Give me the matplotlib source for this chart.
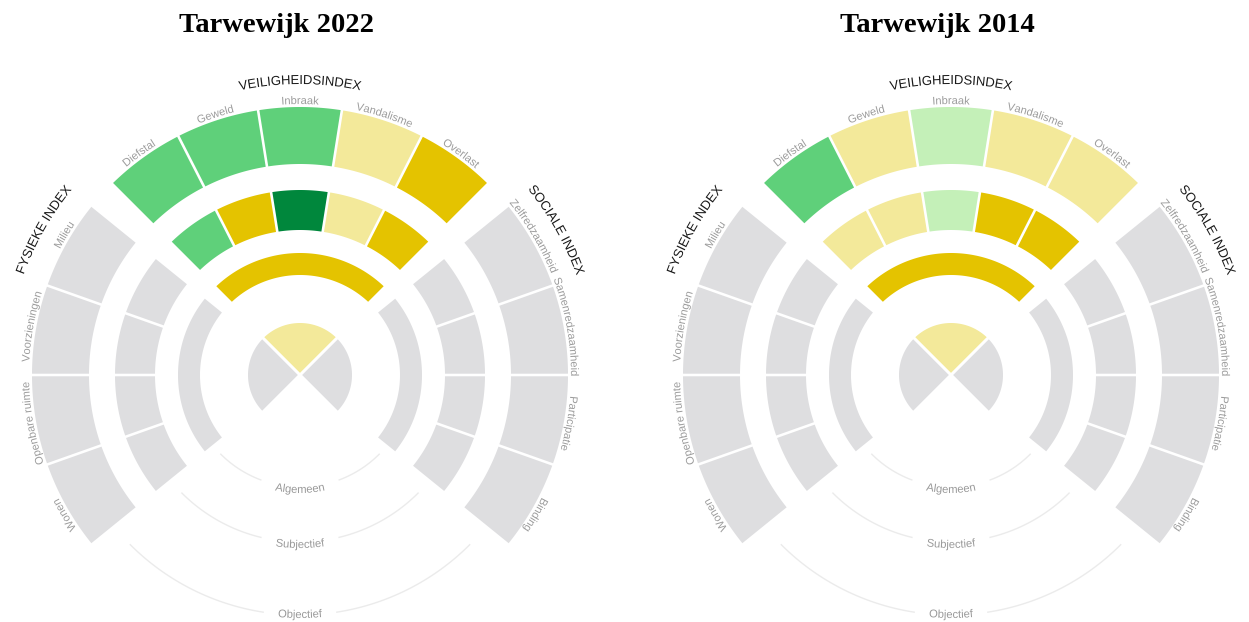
import numpy as np
import matplotlib.pyplot as plt
import matplotlib.patheffects as pe
from matplotlib.patches import Polygon
from matplotlib.font_manager import FontProperties, findfont
from matplotlib.ft2font import FT2Font

W, H = 1249, 622

titles = ["Tarwewijk 2022", "Tarwewijk 2014"]
centers_x = [300, 951]
title_x = [277, 937]

index_names = ["FYSIEKE INDEX", "VEILIGHEIDSINDEX", "SOCIALE INDEX"]
# clockwise order inside each index
sub_fysiek = ["Wonen", "Openbare ruimte", "Voorzieningen", "Milieu"]
sub_veilig = ["Diefstal", "Geweld", "Inbraak", "Vandalisme", "Overlast"]
sub_sociaal = ["Zelfredzaamheid", "Samenredzaamheid", "Participatie", "Binding"]
ring_names = ["Algemeen", "Subjectief", "Objectief"]

# score classes: 0 = geen data, 1 = slecht ... 5 = goed
index_2022 = [0, 2, 0]
algemeen_2022 = [0, 1, 0]
subj_2022 = [[0, 0, 0, 0], [4, 1, 5, 2, 1], [0, 0, 0, 0]]
obj_2022 = [[0, 0, 0, 0], [4, 4, 4, 2, 1], [0, 0, 0, 0]]

index_2014 = [0, 2, 0]
algemeen_2014 = [0, 1, 0]
subj_2014 = [[0, 0, 0, 0], [2, 2, 3, 1, 1], [0, 0, 0, 0]]
obj_2014 = [[0, 0, 0, 0], [4, 2, 3, 2, 2], [0, 0, 0, 0]]

palette = {0: "#dedee0", 1: "#e4c300", 2: "#f3e99a", 3: "#c4f0b8",
           4: "#5fd07a", 5: "#00873c"}

SANS = "Liberation Sans"
CY = H - 375
R_PIE = 52
R_ALG = (100, 122)
R_SUBJ = (145, 185)
R_OBJ = (211, 268)
# index sectors, clockwise: (start angle, end angle, edge offset px, label spread)
sectors = [(219, 141, 0.6, 1.05), (135, 45, 3.6, 1.0), (39, -39, 0.6, 1.05)]
pie_sectors = [(225, 135), (135, 45), (45, -45)]
SEP = 1.3

fig = plt.figure(figsize=(W / 100, H / 100), dpi=100)
ax = fig.add_axes([0, 0, 1, 1])
ax.set_xlim(0, W)
ax.set_ylim(0, H)
ax.axis("off")

_font = FT2Font(findfont(FontProperties(family=SANS)))


def advances(s, fs):
    # glyph advance widths in pixels (dpi 100)
    _font.set_size(fs, 100)
    out = []
    for ch in s:
        g = _font.load_char(ord(ch))
        out.append(g.linearHoriAdvance / 65536)
    return np.array(out)


def wedge(cx, cy, r0, r1, a0, a1, off0, off1, n=80):
    # a0 < a1 in degrees, offsets are parallel distances to the edge lines
    def angles(r):
        b0 = a0 + np.degrees(np.arcsin(min(off0 / r, 1)))
        b1 = a1 - np.degrees(np.arcsin(min(off1 / r, 1)))
        return np.radians(np.linspace(b0, b1, n))
    t = angles(r1)
    pts = list(zip(cx + r1 * np.cos(t), cy + r1 * np.sin(t)))
    if r0 > 0:
        t = angles(r0)[::-1]
        pts += list(zip(cx + r0 * np.cos(t), cy + r0 * np.sin(t)))
    else:
        half = np.radians(a1 - a0) / 2
        mid = np.radians(a0 + a1) / 2
        d = off0 / np.sin(half)
        pts.append((cx + d * np.cos(mid), cy + d * np.sin(mid)))
    return pts


def draw(cx, r0, r1, a0, a1, off0, off1, cls):
    ax.add_patch(Polygon(wedge(cx, CY, r0, r1, a0, a1, off0, off1),
                         closed=True, facecolor=palette[cls], edgecolor="none"))


def curved_text(cx, s, r, theta_c, fs, color, outward=True):
    adv = advances(s, fs)
    total = adv.sum()
    mids = np.cumsum(adv) - adv / 2 - total / 2
    for ch, xc in zip(s, mids):
        if ch == " ":
            continue
        if outward:
            th = theta_c - np.degrees(xc / r)
            rot = th - 90
        else:
            th = theta_c + np.degrees(xc / r)
            rot = th + 90
        t = np.radians(th)
        # path effect -> drawn as path, so no pixel snapping per glyph
        ax.text(cx + r * np.cos(t), CY + r * np.sin(t), ch, rotation=rot,
                rotation_mode="anchor", ha="center", va="baseline",
                fontsize=fs, color=color, family=SANS,
                path_effects=[pe.Normal()])


def draw_chart(k, cx, index_sc, alg_sc, subj_sc, obj_sc):
    subs = [sub_fysiek, sub_veilig, sub_sociaal]
    # centre pie
    for (a_start, a_end), cls in zip(pie_sectors, index_sc):
        draw(cx, 0, R_PIE, a_end, a_start, 1.5, 1.5, cls)
    for j, (a_start, a_end, e, spread) in enumerate(sectors):
        draw(cx, R_ALG[0], R_ALG[1], a_end, a_start, e, e, alg_sc[j])
        n = len(subs[j])
        step = (a_start - a_end) / n
        mid_sector = (a_start + a_end) / 2
        for i in range(n):
            hi = a_start - i * step
            lo = hi - step
            off_hi = e if i == 0 else SEP
            off_lo = e if i == n - 1 else SEP
            draw(cx, R_SUBJ[0], R_SUBJ[1], lo, hi, off_lo, off_hi, subj_sc[j][i])
            draw(cx, R_OBJ[0], R_OBJ[1], lo, hi, off_lo, off_hi, obj_sc[j][i])
            lab_ang = mid_sector + ((hi + lo) / 2 - mid_sector) * spread
            curved_text(cx, subs[j][i], 271, lab_ang, 8.0, "#9c9c9c")
    # index labels
    curved_text(cx, index_names[0], 294, 150.5, 9.4, "#1a1a1a")
    curved_text(cx, index_names[1], 291, 90, 9.4, "#1a1a1a")
    curved_text(cx, index_names[2], 294, 29.5, 9.4, "#1a1a1a")
    # ring labels at the bottom
    for name, r_line, r_base in zip(ring_names, [112, 167, 240], [118, 173, 243]):
        half = np.degrees((advances(name, 8).sum() / 2 + 15) / r_line)
        for a0, a1 in [(225, 270 - half), (270 + half, 315)]:
            t = np.radians(np.linspace(a0, a1, 80))
            ax.plot(cx + r_line * np.cos(t), CY + r_line * np.sin(t),
                    color="#ebebeb", lw=1)
        curved_text(cx, name, r_base, 270, 8.1, "#999999", outward=False)
    ax.text(title_x[k], H - 32, titles[k], ha="center", va="baseline",
            fontsize=20.5, fontweight="bold", family="Liberation Serif",
            color="black")


draw_chart(0, centers_x[0], index_2022, algemeen_2022, subj_2022, obj_2022)
draw_chart(1, centers_x[1], index_2014, algemeen_2014, subj_2014, obj_2014)

fig.savefig("out.png", dpi=100, facecolor="white")
